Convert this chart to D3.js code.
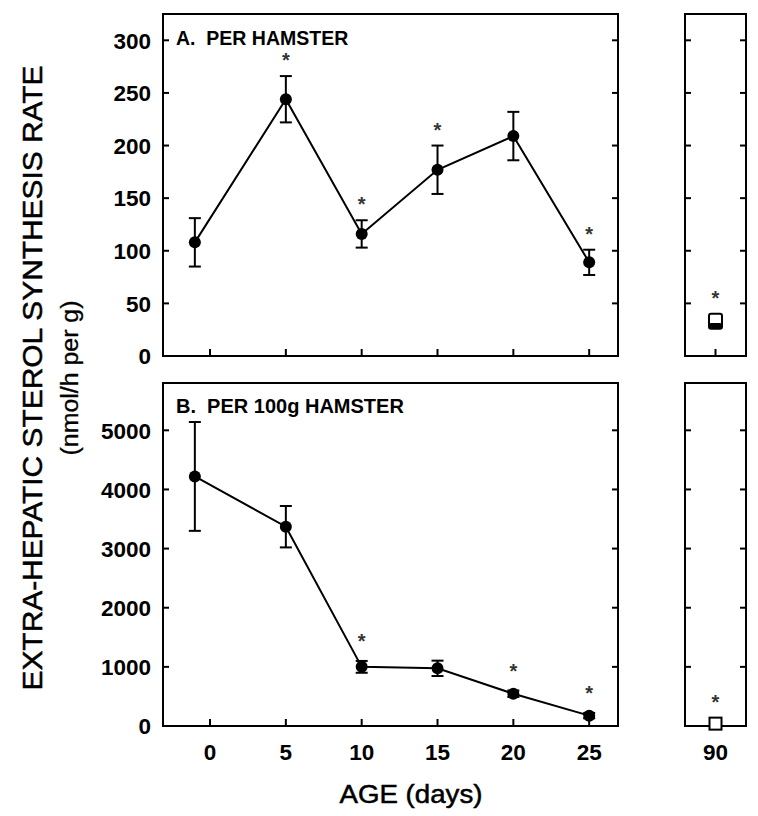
<!DOCTYPE html>
<html><head><meta charset="utf-8">
<script src="https://cdn.jsdelivr.net/npm/d3@7"></script>
<style>body{margin:0;background:#fff}svg{display:block}</style>
</head><body><svg id="c" width="758" height="816"></svg>
<script>
// ---- data ----
const days = [-1, 5, 10, 15, 20, 25];
const perHamster = [108, 244, 116, 177, 209, 89];
const perHamsterErr = [23, 22, 13, 23, 23, 12];
const per100g = [4220, 3370, 1000, 975, 545, 175];
const per100gErr = [920, 350, 100, 130, 55, 45];
const sigDaysA = [5, 10, 15, 25];
const sigDaysB = [10, 20, 25];
const adultDay = 90;
const adultPerHamsterSquare = 33;
const adultPerHamsterCircle = 29;
const adultPer100gSquare = 40;
const xTicks = [0, 5, 10, 15, 20, 25];
const yTicksA = [0, 50, 100, 150, 200, 250, 300];
const yTicksB = [0, 1000, 2000, 3000, 4000, 5000];

const svg = d3.select("#c");
const FONT = "'Liberation Sans', Arial, sans-serif";

const x = d3.scaleLinear().domain([-3.1, 26.9]).range([163, 618]);
const x90 = d3.scaleLinear().domain([87, 93]).range([685, 746]);
const yA = d3.scaleLinear().domain([0, 325]).range([356, 14]);
const yB = d3.scaleLinear().domain([0, 5800]).range([726, 383]);

function panel(xs, y, yTicks, showLabels, xTickVals) {
  const g = svg.append("g");
  const [x0, x1] = xs.range();
  const [yb, yt] = y.range();
  g.append("rect").attr("x", x0).attr("y", yt).attr("width", x1 - x0).attr("height", yb - yt)
    .attr("fill", "none").attr("stroke", "#000").attr("stroke-width", 2);
  const yt_ = yTicks.filter(v => v > 0);
  g.selectAll(".tl").data(yt_).join("line")
    .attr("x1", x0).attr("x2", x0 + 6).attr("y1", d => y(d)).attr("y2", d => y(d))
    .attr("stroke", "#000").attr("stroke-width", 2);
  g.selectAll(".tr").data(yt_).join("line")
    .attr("x1", x1).attr("x2", x1 - 6).attr("y1", d => y(d)).attr("y2", d => y(d))
    .attr("stroke", "#000").attr("stroke-width", 2);
  g.selectAll(".tb").data(xTickVals).join("line")
    .attr("x1", d => xs(d)).attr("x2", d => xs(d)).attr("y1", yb).attr("y2", yb - 7)
    .attr("stroke", "#000").attr("stroke-width", 2);
  if (showLabels) {
    g.selectAll(".yl").data(yTicks).join("text")
      .attr("x", 151).attr("y", d => y(d)).attr("dy", "0.37em")
      .attr("text-anchor", "end").attr("font-family", FONT).attr("font-weight", "bold")
      .attr("font-size", 22.5).text(d => d);
  }
  return g;
}

function series(g, xs, y, vals, errs) {
  const pts = days.map((d, i) => ({d, v: vals[i], e: errs[i]}));
  g.append("path").datum(pts)
    .attr("d", d3.line().x(p => xs(p.d)).y(p => y(p.v)))
    .attr("fill", "none").attr("stroke", "#000").attr("stroke-width", 2);
  const eb = g.selectAll(".eb").data(pts).join("g");
  eb.append("line").attr("x1", p => xs(p.d)).attr("x2", p => xs(p.d))
    .attr("y1", p => y(p.v - p.e)).attr("y2", p => y(p.v + p.e))
    .attr("stroke", "#000").attr("stroke-width", 2);
  eb.append("line").attr("x1", p => xs(p.d) - 6).attr("x2", p => xs(p.d) + 6)
    .attr("y1", p => y(p.v + p.e)).attr("y2", p => y(p.v + p.e))
    .attr("stroke", "#000").attr("stroke-width", 2);
  eb.append("line").attr("x1", p => xs(p.d) - 6).attr("x2", p => xs(p.d) + 6)
    .attr("y1", p => y(p.v - p.e)).attr("y2", p => y(p.v - p.e))
    .attr("stroke", "#000").attr("stroke-width", 2);
  g.selectAll(".pt").data(pts).join("circle")
    .attr("cx", p => xs(p.d)).attr("cy", p => y(p.v)).attr("r", 6).attr("fill", "#000");
  return pts;
}

function star(g, cx, topY, off) {
  g.append("text").attr("x", cx).attr("y", topY - (off || 21) + 11)
    .attr("text-anchor", "middle").attr("font-family", FONT).attr("font-weight", "bold")
    .attr("font-size", 20).attr("fill", "#333").text("*");
}

// Panel A
const gA = panel(x, yA, yTicksA, true, xTicks);
const ptsA = series(gA, x, yA, perHamster, perHamsterErr);
ptsA.filter(p => sigDaysA.includes(p.d)).forEach(p => star(gA, x(p.d), yA(p.v + p.e), 20));
gA.append("text").attr("x", 176).attr("y", 45).attr("font-family", FONT).attr("font-weight", "bold")
  .attr("font-size", 19.5).attr("xml:space", "preserve").text("A.  PER HAMSTER");

// Panel B
const gB = panel(x, yB, yTicksB, true, xTicks);
const ptsB = series(gB, x, yB, per100g, per100gErr);
ptsB.filter(p => sigDaysB.includes(p.d)).forEach(p => star(gB, x(p.d), yB(p.v + p.e), 24));
gB.append("text").attr("x", 176).attr("y", 413).attr("font-family", FONT).attr("font-weight", "bold")
  .attr("font-size", 20).attr("xml:space", "preserve").text("B.  PER 100g HAMSTER");

// Right panels (adult, day 90)
const gA2 = panel(x90, yA, yTicksA, false, [adultDay]);
const sqTop = yA(adultPerHamsterSquare) - 7.5, sqBot = yA(adultPerHamsterSquare) + 7.5;
gA2.append("rect").attr("x", x90(adultDay) - 6.5).attr("y", sqTop)
  .attr("width", 13).attr("height", sqBot - sqTop).attr("rx", 2).attr("fill", "#fff").attr("stroke", "#000").attr("stroke-width", 2);
gA2.append("rect").attr("x", x90(adultDay) - 6.5).attr("y", yA(adultPerHamsterCircle) - 2.5)
  .attr("width", 13).attr("height", sqBot - yA(adultPerHamsterCircle) + 2.5)
  .attr("rx", 2).attr("fill", "#000");
star(gA2, x90(adultDay), sqTop, 20);

const gB2 = panel(x90, yB, yTicksB, false, []);
gB2.append("rect").attr("x", x90(adultDay) - 6).attr("y", yB(adultPer100gSquare) - 6)
  .attr("width", 12).attr("height", 12).attr("fill", "#fff").attr("stroke", "#000").attr("stroke-width", 2);
star(gB2, x90(adultDay), yB(adultPer100gSquare) - 6, 20);

// X tick labels
svg.selectAll(".xl").data(xTicks).join("text")
  .attr("x", d => x(d)).attr("y", 760).attr("text-anchor", "middle")
  .attr("font-family", FONT).attr("font-weight", "bold").attr("font-size", 22.5).text(d => d);
svg.append("text").attr("x", x90(adultDay)).attr("y", 760).attr("text-anchor", "middle")
  .attr("font-family", FONT).attr("font-weight", "bold").attr("font-size", 22.5).text(adultDay);

// Axis titles
svg.append("text").attr("x", 411).attr("y", 803).attr("text-anchor", "middle")
  .attr("font-family", FONT).attr("font-size", 25).attr("stroke", "#000").attr("stroke-width", 0.5)
  .attr("textLength", 143).attr("lengthAdjust", "spacingAndGlyphs")
  .text("AGE (days)");
svg.append("text").attr("transform", "translate(42,378) rotate(-90)").attr("text-anchor", "middle")
  .attr("font-family", FONT).attr("font-size", 27).attr("stroke", "#000").attr("stroke-width", 0.5)
  .attr("textLength", 625).attr("lengthAdjust", "spacingAndGlyphs")
  .text("EXTRA-HEPATIC STEROL SYNTHESIS RATE");
svg.append("text").attr("transform", "translate(78,378) rotate(-90)").attr("text-anchor", "middle")
  .attr("font-family", FONT).attr("font-size", 23).attr("stroke", "#000").attr("stroke-width", 0.3)
  .attr("textLength", 155).attr("lengthAdjust", "spacingAndGlyphs")
  .text("(nmol/h per g)");
</script></body></html>
